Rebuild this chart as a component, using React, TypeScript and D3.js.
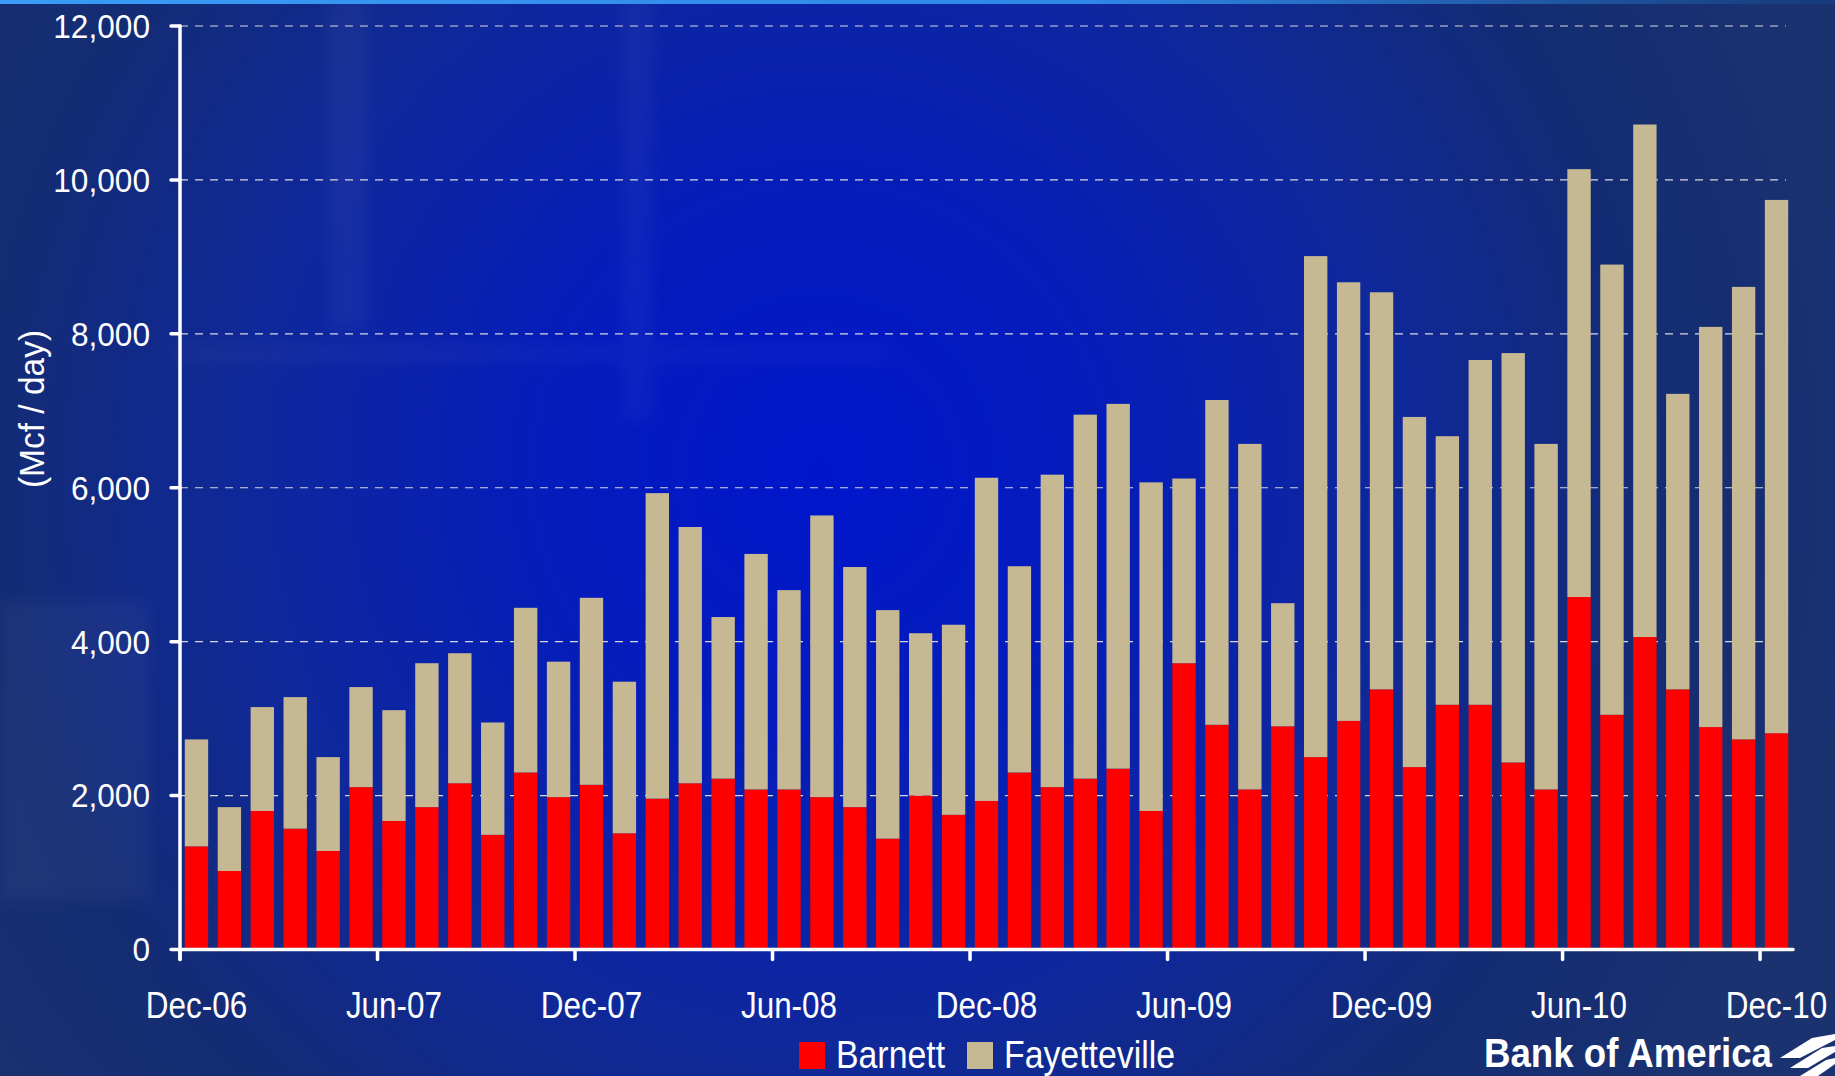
import React from 'react';
import * as d3 from 'd3';

const WIDTH = 1835;
const HEIGHT = 1076;
const MARGIN = { top: 26, right: 42, bottom: 126.5, left: 180 };
const FONT = "'Liberation Sans', Arial, sans-serif";

// monthly categories, Dec-06 .. Dec-10
const months = d3.timeMonth.range(new Date(2006, 11, 1), new Date(2011, 0, 1)).map(d3.timeFormat('%b-%y'));
const tickLabels = ['Dec-06', 'Jun-07', 'Dec-07', 'Jun-08', 'Dec-08', 'Jun-09', 'Dec-09', 'Jun-10', 'Dec-10'];
const yTicks = [0, 2000, 4000, 6000, 8000, 10000, 12000];

const barnett = [
  1340, 1020, 1800, 1570, 1280, 2110, 1670, 1850, 2160, 1490,
  2300, 1980, 2140, 1510, 1960, 2160, 2220, 2080, 2080, 1980,
  1850, 1440, 2000, 1750, 1930, 2300, 2110, 2220, 2350, 1800,
  3720, 2920, 2080, 2900, 2500, 2970, 3380, 2370, 3180, 3180,
  2430, 2080, 4580, 3050, 4060, 3380, 2890, 2730, 2810,
];
const fayetteville = [
  1390, 830, 1350, 1710, 1220, 1300, 1440, 1870, 1690, 1460,
  2140, 1760, 2430, 1970, 3970, 3330, 2100, 3060, 2590, 3660,
  3120, 2970, 2110, 2470, 4200, 2680, 4060, 4730, 4740, 4270,
  2400, 4220, 4490, 1600, 6510, 5700, 5160, 4550, 3490, 4480,
  5320, 4490, 5560, 5850, 6660, 3840, 5200, 5880, 6930,
];
const seriesNames = ['Barnett', 'Fayetteville'];
const seriesColors = ['#ff0000', '#c6b892'];

const rows = months.map((m, i) => ({ month: m, Barnett: barnett[i], Fayetteville: fayetteville[i] }));

// condensed text: a normal sans squeezed horizontally
const NarrowText = ({ x, y, sx, anchor, size, children, rotate = 0, weight = 'normal', baseline }: any) => (
  <g transform={`translate(${x},${y}) rotate(${rotate}) scale(${sx},1)`}>
    <text textAnchor={anchor} fontSize={size} fontWeight={weight} dominantBaseline={baseline}>
      {children}
    </text>
  </g>
);

export default function App() {
  const x = d3
    .scaleBand<string>()
    .domain(months)
    .range([MARGIN.left, WIDTH - MARGIN.right])
    .paddingInner(0.29)
    .paddingOuter(0.145);
  const y = d3.scaleLinear().domain([0, 12000]).range([HEIGHT - MARGIN.bottom, MARGIN.top]);
  const color = d3.scaleOrdinal<string, string>().domain(seriesNames).range(seriesColors);

  const stacked = d3.stack<any>().keys(seriesNames)(rows);
  const step = x.step();
  const gap = (step * 0.29) / 2;
  const x0 = MARGIN.left;
  const x1 = WIDTH - MARGIN.right;
  const y0 = y(0);

  return (
    <div style={{ position: 'absolute', left: 0, top: 0 }}>
      <svg width={WIDTH} height={HEIGHT} style={{ display: 'block' }}>
        <defs>
          <radialGradient id="bg" cx="820" cy="470" r="1050" gradientUnits="userSpaceOnUse">
            <stop offset="0" stopColor="#0016cc" />
            <stop offset="0.25" stopColor="#041cbc" />
            <stop offset="0.55" stopColor="#0f289a" />
            <stop offset="0.8" stopColor="#142c72" />
            <stop offset="1" stopColor="#1a3270" />
          </radialGradient>
          <linearGradient id="topbar" x1="0" x2="1" y1="0" y2="0">
            <stop offset="0" stopColor="#3a9cf6" />
            <stop offset="0.6" stopColor="#2f86e6" />
            <stop offset="1" stopColor="#163a7a" />
          </linearGradient>
          <filter id="soft" x="-20%" y="-20%" width="140%" height="140%">
            <feGaussianBlur stdDeviation="8" />
          </filter>
        </defs>
        <rect x={0} y={0} width={WIDTH} height={HEIGHT} fill="url(#bg)" />
        {/* faint background texture */}
        <g fill="#ffffff" opacity={0.035} filter="url(#soft)">
          <rect x={328} y={0} width={40} height={330} />
          <rect x={622} y={0} width={30} height={420} />
          <rect x={170} y={345} width={720} height={16} />
          <rect x={0} y={600} width={150} height={300} />
        </g>
        <rect x={0} y={0} width={WIDTH} height={4} fill="url(#topbar)" />

        {/* grid */}
        {yTicks.slice(1).map((t) => (
          <line
            key={t}
            x1={x0}
            x2={x1 - 7}
            y1={y(t)}
            y2={y(t)}
            stroke="#d8d8e0"
            strokeWidth={1.2}
            strokeDasharray="8,7"
          />
        ))}

        {/* bars */}
        {stacked.map((s) => (
          <g key={s.key} fill={color(s.key)}>
            {s.map((d, i) => (
              <rect
                key={i}
                x={x(d.data.month)}
                y={y(d[1])}
                width={x.bandwidth()}
                height={y(d[0]) - y(d[1])}
              />
            ))}
          </g>
        ))}

        {/* axes */}
        <g stroke="#ffffff" strokeWidth={3.5} strokeLinecap="round">
          <line x1={x0} x2={x0} y1={y(12000)} y2={y0 + 10} />
          <line x1={x0} x2={x1} y1={y0} y2={y0} />
          {yTicks.map((t) => (
            <line key={t} x1={x0 - 9} x2={x0} y1={y(t)} y2={y(t)} />
          ))}
          {tickLabels.map((l) => (
            <line key={l} x1={(x(l) ?? 0) - gap} x2={(x(l) ?? 0) - gap} y1={y0} y2={y0 + 10} />
          ))}
        </g>

        <g fill="#ffffff" fontFamily={FONT}>
          {yTicks.map((t) => (
            <NarrowText key={t} x={150} y={y(t)} sx={0.93} anchor="end" size={34} baseline="central">
              {d3.format(',')(t)}
            </NarrowText>
          ))}
          {tickLabels.map((l) => (
            <NarrowText key={l} x={(x(l) ?? 0) + x.bandwidth() / 2} y={1018} sx={0.85} anchor="middle" size={37}>
              {l}
            </NarrowText>
          ))}
          <NarrowText x={44} y={409} rotate={-90} sx={0.93} anchor="middle" size={36}>
            (Mcf / day)
          </NarrowText>
        </g>

        {/* legend */}
        <g fontFamily={FONT} fill="#ffffff">
          {seriesNames.map((n, i) => {
            const lx = i === 0 ? 799 : 967;
            return (
              <g key={n}>
                <rect x={lx} y={1042} width={26} height={27} fill={color(n)} />
                <NarrowText x={lx + 37} y={1068} sx={0.89} anchor="start" size={38}>
                  {n}
                </NarrowText>
              </g>
            );
          })}
        </g>

        {/* logo */}
        <text
          x={1484}
          y={1067}
          fontFamily={FONT}
          fontWeight="bold"
          fontSize={40}
          fill="#ffffff"
          textLength={288}
          lengthAdjust="spacingAndGlyphs"
        >
          Bank of America
        </text>
        <g fill="#ffffff">
          <path d="M1780,1058 L1812,1038 L1835,1034 L1835,1040 L1800,1058 Z" />
          <path d="M1790,1068 L1822,1048 L1835,1046 L1835,1052 L1808,1068 Z" />
          <path d="M1800,1076 L1826,1060 L1835,1058 L1835,1064 L1818,1076 Z" />
        </g>
      </svg>
    </div>
  );
}
